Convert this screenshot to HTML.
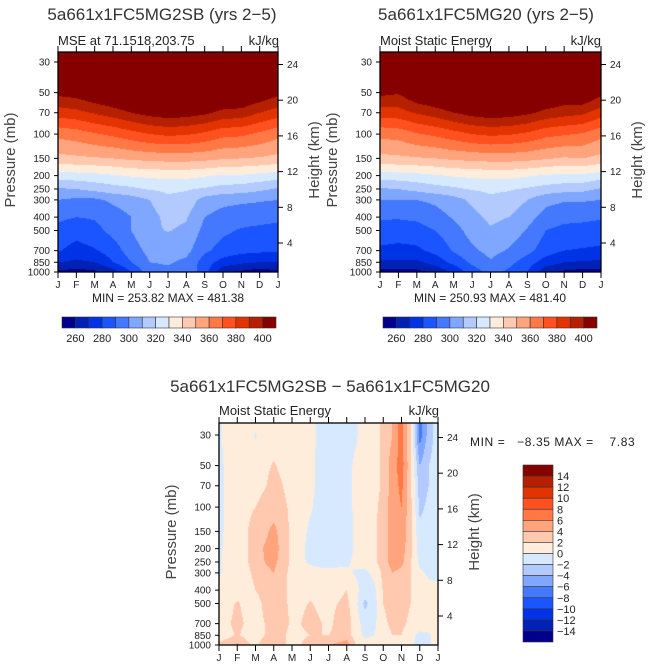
<!DOCTYPE html>
<html><head><meta charset="utf-8">
<style>
html,body{margin:0;padding:0;background:#fff;}
#root{position:relative;width:648px;height:668px;overflow:hidden;font-family:"Liberation Sans",sans-serif;}
canvas{position:absolute;}
svg{position:absolute;left:0;top:0;}
text{white-space:pre;}
</style></head>
<body>
<div id="root">
<canvas id="c1"></canvas>
<canvas id="c2"></canvas>
<canvas id="c3"></canvas>
<svg id="svg" width="648" height="668"></svg>
</div>
<script>
// ---------- data ----------
const months = ["J","F","M","A","M","J","J","A","S","O","N","D","J"];
const pLevels = [1000,850,700,500,400,300,250,200,150,100,70,50,30,25];
const pTicks = [30,50,70,100,150,200,250,300,400,500,700,850,1000];
const zTicks = [4,8,12,16,20,24];
const palette = ["#00008c","#0022b4","#0033e6","#1a55ff","#4479ff","#7fa7ff","#b2caff","#d7e9ff","#ffeddb","#ffc9b0","#ffa47c","#ff7846","#ff5020","#e23300","#b52000","#870000"];
const mseLevels = [260,270,280,290,300,310,320,330,340,350,360,370,380,390,400];
const mseLabels = [260,280,300,320,340,360,380,400];
const diffLevels = [-14,-12,-10,-8,-6,-4,-2,0,2,4,6,8,10,12,14];
const diffLabels = [14,12,10,8,6,4,2,0,-2,-4,-6,-8,-10,-12,-14];

const mseA_1000 = [258,256,258,265,280,296,298,297,285,262,258,255,258];
const mseA_850  = [270,268,270,280,290,300,301,298,285,276,272,270,270];
const mseA_700  = [281,276,279,285,295,303,304,303,292,286,283,282,281];
const mseA_500  = [287,284,287,293,300,308,310.5,308,297,292,289,288,287];
const mseA_400  = [292,290,291,295,300,306,313,311,300,296,294,293,292];
const mseA_300  = [300,298,298,302,305,310,318,316,306,303,302,301,300];
const mseA_250  = [309,310,313,316,318,321,322,321,319,316,315,312,309];
const mseA_200  = [325,326,327,329,331,332,333,333,331,329,329,327,325];
const mseA_150  = [347,348,349,350,352,353,354,354,353,351,350,349,347];
const mseA_100  = [363,365,369,372,376,380,382,381,378,373,372,368,363];
const mseA_70   = [385,387,391,395,400,404,406,405,402,397,396,390,385];
const mseA_50   = [403,405,410,414,418,423,425,424,421,415,414,409,403];
const mseA_30   = [430,432,434,437,440,443,445,444,442,438,437,434,430];
const mseA_25   = [440,441,443,445,447,449,450,449,448,446,445,443,440];

const mseB_1000 = [257,257,257,262,272,285,293,288,280,263,258,256,257];
const mseB_850  = [268,268,268,274,283,292,299,293,285,275,270,269,268];
const mseB_700  = [278,277,278,283,291,298,303,299,293,285,280,279,278];
const mseB_500  = [286,285,286,290,296,304,309,306,299,290,287,287,286];
const mseB_400  = [291,291,292,296,301,307,312,310,304,296,293,292,291];
const mseB_300  = [300,300,300,302,306,312,318,316,310,303,301,301,300];
const mseB_250  = [309,310,313,316,318,321,322,321,319,316,314,313,309];
const mseB_200  = [325,326,327,329,331,332,333,333,331,329,328,328,325];
const mseB_150  = [347,348,349,350,352,353,354,354,353,351,349,350,347];
const mseB_100  = [363,364,369,372,376,380,382,381,378,373,371,369,363];
const mseB_70   = [385,386,391,395,400,404,406,405,402,397,394,392,385];
const mseB_50   = [403,401,410,414,418,423,425,424,421,415,410,412,403];
const mseB_30   = [430,430,434,437,440,443,445,444,442,438,436,435,430];
const mseB_25   = [440,440,443,445,447,449,450,449,448,446,445,443,440];

// difference field, half-month columns (25)
const dif_1000 = [2.5,3,4.5,2.5,1.5,3,3.5,2.5,1,2,3.5,4,4,4.5,5,2,1,1,1.5,2,1,0.5,-0.8,-0.5,2];
const dif_850  = [1,1.5,2.2,1.5,1,2,3,2.5,1,1.5,2,2,2,2.5,3,1,-0.5,0,1,2,2,0.5,-0.5,-0.3,1];
const dif_700  = [1,1.8,2.5,1.8,1,2,3,3,1.5,2,3,2.2,1.5,2.5,3,1,-1,-0.5,1.5,2.5,2.5,1.5,1,1,1];
const dif_500  = [1,1.5,2.2,1.5,1,2.5,3,2.5,1.5,1.5,2.2,1.5,1.5,2,2.5,0.5,-2.5,-0.8,2,3,3,2,1.5,1,1];
const dif_400  = [0.5,0.8,1,1,2,3,3,2.5,1.5,1,1,1,1,1.5,2,0.5,-1,-0.5,2.2,3,3,2,1,0.5,0.5];
const dif_300  = [-0.3,0.8,1,1.5,2.5,3.5,4,2.5,1.5,1,0.8,0.6,0.5,0.5,0.3,-0.2,-0.5,0.5,2.5,4,3.5,2,0.3,-0.3,-0.5];
const dif_250  = [-0.4,0.8,1,1.8,2.8,4,4.6,3,1.5,0.3,-0.3,-0.6,-0.6,-0.5,-0.3,0.4,1,1.5,3,4.8,4.5,2.2,-0.5,-0.5,-0.6];
const dif_200  = [-0.5,0.8,1,1.8,3,4.2,5,3.2,1.5,0.5,-0.7,-1,-1,-1,-0.8,0.3,1,1.5,3,5,5,2.5,-1,-0.8,-1];
const dif_150  = [-0.5,0.5,1,1.8,3,3.5,4.6,3,1.5,0.8,-0.5,-1,-1,-1,-0.8,0.3,1,1.5,3,5,5.5,2.5,-1.5,-1,-1];
const dif_100  = [-0.5,0.5,1,1.5,2,2.8,3,2.5,1.5,1,0.3,-0.8,-1,-1,-0.8,0.5,1,1.5,2.8,5,6,2.5,-2.5,-1.5,-1];
const dif_70   = [-0.5,0.5,1,1,1.2,1.8,2.8,2,1,1,0.5,-0.5,-1,-1,-0.8,0.5,1,1,2.5,5,6.5,2.5,-3,-2,-1];
const dif_50   = [-0.5,0.5,1,1,1,1.5,2.2,1.5,1,1,0.5,-0.5,-1,-1,-0.8,0.5,1,1,2.5,5,7,2.5,-4,-2,-1];
const dif_30   = [-0.5,1,1,1,-0.2,1,1,1,1,1,0.8,-0.5,-1,-1,-1,-0.3,1,1,2.5,4,7,2,-7,-3,-1];
const dif_25   = [-0.5,1,1,1,0.5,1,1,1,1,1,0.8,-0.5,-1,-1,-1,-0.3,1,1,2.5,4,7,2,-7,-3,-1];

const fieldA = [mseA_1000,mseA_850,mseA_700,mseA_500,mseA_400,mseA_300,mseA_250,mseA_200,mseA_150,mseA_100,mseA_70,mseA_50,mseA_30,mseA_25];
const fieldB = [mseB_1000,mseB_850,mseB_700,mseB_500,mseB_400,mseB_300,mseB_250,mseB_200,mseB_150,mseB_100,mseB_70,mseB_50,mseB_30,mseB_25];
const fieldD = [dif_1000,dif_850,dif_700,dif_500,dif_400,dif_300,dif_250,dif_200,dif_150,dif_100,dif_70,dif_50,dif_30,dif_25];

// ---------- helpers ----------
const NS="http://www.w3.org/2000/svg";
const svg=document.getElementById('svg');
function mk(tag,attrs,parent){const e=document.createElementNS(NS,tag);for(const k in attrs)e.setAttribute(k,attrs[k]);(parent||svg).appendChild(e);return e;}
function txt(s,x,y,size,anchor,parent,extra){const t=mk('text',Object.assign({x:x,y:y,'font-size':size,'text-anchor':anchor||'middle',fill:'#222','font-family':'Liberation Sans, sans-serif'},extra||{}),parent);t.textContent=s;return t;}
function binOf(v,levels){let i=0;while(i<levels.length&&v>=levels[i])i++;return i;}
function hex2rgb(h){return [parseInt(h.substr(1,2),16),parseInt(h.substr(3,2),16),parseInt(h.substr(5,2),16)];}
const palRGB=palette.map(hex2rgb);

function makeAxis(x0,y0,w,h,top30){
  const b=(h-top30)/Math.log(1000/30);
  return {
    x:(m)=>x0+m/12*w,
    y:(p)=>y0+top30+b*(Math.log(p)-Math.log(30)),
    zy:(z)=>y0+h-29-(z-4)*8.925,
    pAt:(py)=>Math.exp(Math.log(30)+(py-top30)/b),
    x0,y0,w,h
  };
}
function interp(field,nc,m,p){
  const lp=Math.log(p);
  let r=0;
  const L=pLevels.map(Math.log);
  if(lp>=L[0]) r=0; else if(lp<=L[L.length-1]) r=L.length-1.0001;
  else {for(let i=0;i<L.length-1;i++){if(lp<=L[i]&&lp>=L[i+1]){r=i+(L[i]-lp)/(L[i]-L[i+1]);break;}}}
  const c=m/12*(nc-1);
  const r0=Math.min(Math.floor(r),L.length-2),fr=r-r0;
  const c0=Math.min(Math.floor(c),nc-2),fc=c-c0;
  const a=field[r0][c0],b=field[r0][c0+1],d=field[r0+1][c0],e=field[r0+1][c0+1];
  return (a*(1-fc)+b*fc)*(1-fr)+(d*(1-fc)+e*fc)*fr;
}
function drawField(id,ax,field,levels){
  const cv=document.getElementById(id);
  cv.width=ax.w;cv.height=ax.h;cv.style.left=ax.x0+'px';cv.style.top=ax.y0+'px';
  const ctx=cv.getContext('2d');const img=ctx.createImageData(ax.w,ax.h);
  const nc=field[0].length;
  for(let py=0;py<ax.h;py++){
    const p=ax.pAt(py+0.5);
    for(let px=0;px<ax.w;px++){
      const m=(px+0.5)/ax.w*12;
      const v=interp(field,nc,m,p);
      const c=palRGB[binOf(v,levels)];
      const k=(py*ax.w+px)*4;img.data[k]=c[0];img.data[k+1]=c[1];img.data[k+2]=c[2];img.data[k+3]=255;
    }
  }
  ctx.putImageData(img,0,0);
}
function drawFrame(ax,g){
  mk('rect',{x:ax.x0,y:ax.y0,width:ax.w,height:ax.h,fill:'none',stroke:'#000','stroke-width':1.3},g);
  months.forEach((m,i)=>{
    const x=ax.x(i);
    mk('line',{x1:x,y1:ax.y0+ax.h,x2:x,y2:ax.y0+ax.h+6,stroke:'#000','stroke-width':1},g);
    mk('line',{x1:x,y1:ax.y0,x2:x,y2:ax.y0-6,stroke:'#000','stroke-width':1},g);
    txt(m,x,ax.y0+ax.h+16,10,'middle',g);
  });
  pTicks.forEach(p=>{
    const y=ax.y(p);
    mk('line',{x1:ax.x0,y1:y,x2:ax.x0-4,y2:y,stroke:'#000','stroke-width':1},g);
    txt(String(p),ax.x0-8,y+3.5,10,'end',g);
  });
  zTicks.forEach(z=>{
    const y=ax.zy(z);
    mk('line',{x1:ax.x0+ax.w,y1:y,x2:ax.x0+ax.w+5,y2:y,stroke:'#000','stroke-width':1},g);
    txt(String(z),ax.x0+ax.w+9,y+3.5,10,'start',g);
  });
  txt('Pressure (mb)',0,0,15,'middle',g,{transform:`translate(${ax.x0-43},${ax.y0+ax.h/2-2}) rotate(-90)`,fill:'#444'});
  txt('Height (km)',0,0,15,'middle',g,{transform:`translate(${ax.x0+ax.w+41},${ax.y0+ax.h/2-2}) rotate(-90)`,fill:'#444'});
}
function hColorbar(x0,y0,w,h,g){
  const bw=w/16;
  palette.forEach((c,i)=>{
    const r=mk('rect',{x:x0+i*bw,y:y0,width:bw,height:h,fill:c,stroke:'#333','stroke-width':0.6},g);
    
    
  });
  mseLabels.forEach(v=>{
    const i=mseLevels.indexOf(v)+1;
    txt(String(v),x0+i*bw,y0+h+14,11,'middle',g);
  });
}

// ---------- panels ----------
const axA=makeAxis(58,52,220,220,10);
const axB=makeAxis(380,52,221,220,10);
const axD=makeAxis(219,423,219,222,12);
drawField('c1',axA,fieldA,mseLevels);
drawField('c2',axB,fieldB,mseLevels);
drawField('c3',axD,fieldD,diffLevels);

const gA=mk('g',{});
txt('5a661x1FC5MG2SB (yrs 2−5)',162,20,17,'middle',gA,{fill:'#333'});
txt('MSE at 71.1518,203.75',58,45,13,'start',gA);
txt('kJ/kg',279,45,13,'end',gA);
drawFrame(axA,gA);
txt('MIN = 253.82 MAX = 481.38',168,302,12,'middle',gA);
hColorbar(62,317,214,11,gA);

const gB=mk('g',{});
txt('5a661x1FC5MG20 (yrs 2−5)',486,20,17,'middle',gB,{fill:'#333'});
txt('Moist Static Energy',380,45,13,'start',gB);
txt('kJ/kg',601,45,13,'end',gB);
drawFrame(axB,gB);
txt('MIN = 250.93 MAX = 481.40',490,302,12,'middle',gB);
hColorbar(383,317,214,11,gB);

const gD=mk('g',{});
txt('5a661x1FC5MG2SB − 5a661x1FC5MG20',330,392,17,'middle',gD,{fill:'#333'});
txt('Moist Static Energy',219,415,13,'start',gD);
txt('kJ/kg',439,415,13,'end',gD);
drawFrame(axD,gD);
txt('MIN =   −8.35 MAX =    7.83',470,446,12,'start',gD,{'letter-spacing':'0.6'});
// vertical colorbar
(function(){
  const x0=523,y0=465,w=30,h=177,bh=h/16;
  for(let i=0;i<16;i++){
    const r=mk('rect',{x:x0,y:y0+i*bh,width:w,height:bh,fill:palette[15-i],stroke:'#333','stroke-width':0.6},gD);
    
    
  }
  diffLabels.forEach(v=>{
    const i=15-diffLevels.indexOf(v);
    txt(v<0?'−'+(-v):String(v),x0+w+4,y0+i*bh+4,11,'start',gD);
  });
})();
</script>
</body></html>
